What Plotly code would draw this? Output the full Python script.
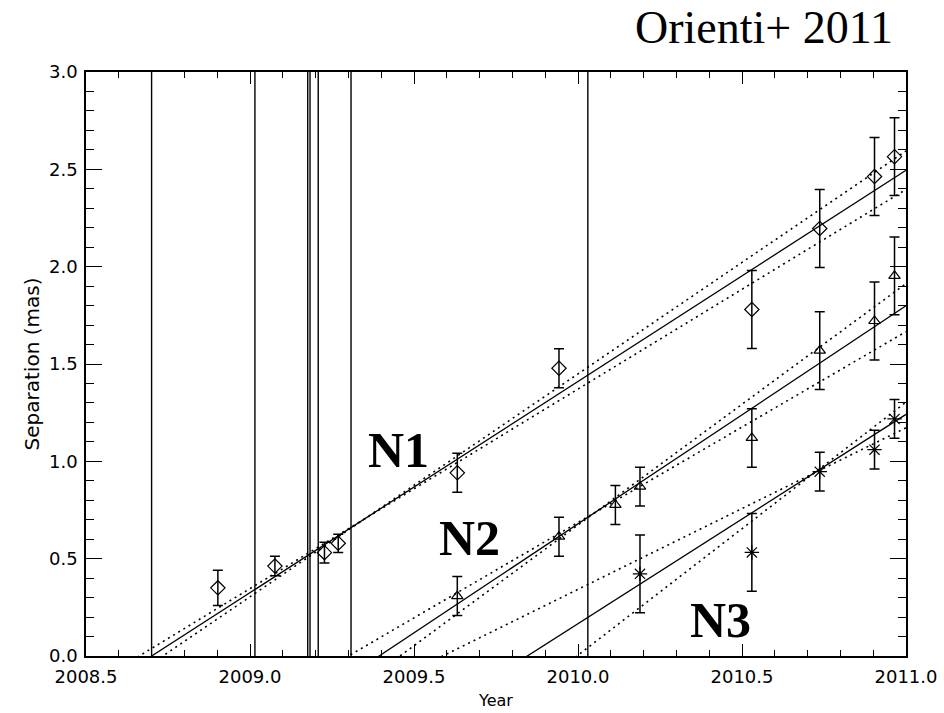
import plotly.graph_objects as go

# ---------------- data ----------------
n1_year = [2008.902, 2009.076, 2009.227, 2009.269, 2009.632, 2009.942, 2010.530, 2010.737, 2010.904, 2010.965]
n1_sep = [0.35, 0.462, 0.531, 0.579, 0.941, 1.478, 1.78, 2.196, 2.463, 2.565]
n1_err = [0.09, 0.05, 0.053, 0.047, 0.10, 0.10, 0.20, 0.20, 0.20, 0.20]

n2_year = [2009.632, 2009.942, 2010.114, 2010.189, 2010.530, 2010.737, 2010.904, 2010.965]
n2_sep = [0.308, 0.613, 0.776, 0.870, 1.120, 1.569, 1.721, 1.953]
n2_err = [0.10, 0.10, 0.10, 0.10, 0.15, 0.20, 0.20, 0.20]

n3_year = [2010.189, 2010.530, 2010.737, 2010.904, 2010.965]
n3_sep = [0.422, 0.532, 0.947, 1.060, 1.218]
n3_err = [0.20, 0.20, 0.10, 0.10, 0.10]

# linear fits: pivot point, best slope, and the two bounding slopes (mas/yr)
fit_names = ["N1", "N2", "N3"]
fit_pivot_year = [2009.35, 2010.05, 2010.72]
fit_pivot_sep = [0.705, 0.735, 0.94]
fit_slope = [1.085, 1.12, 1.075]
fit_slope_hi = [1.145, 1.24, 1.30]
fit_slope_lo = [1.025, 0.98, 0.83]

# vertical epoch lines
vline_years = [2008.70, 2009.015, 2009.176, 2009.183, 2009.208, 2009.308, 2010.03]

# component labels
label_text = ["N1", "N2", "N3"]
label_year = [2009.454, 2009.668, 2010.433]
label_sep = [1.058, 0.606, 0.185]

x_range = [2008.5, 2011.0]
y_range = [0.0, 3.0]

# ---------------- figure ----------------
fig = go.Figure()

def line_vals(py, pv, s, xs):
    return [pv + s * (x - py) for x in xs]

for i in range(len(fit_names)):
    xs = x_range
    fig.add_trace(go.Scatter(x=xs, y=line_vals(fit_pivot_year[i], fit_pivot_sep[i], fit_slope[i], xs),
                             mode="lines", line=dict(color="black", width=1.3),
                             showlegend=False, hoverinfo="skip"))
    for s in (fit_slope_hi[i], fit_slope_lo[i]):
        fig.add_trace(go.Scatter(x=xs, y=line_vals(fit_pivot_year[i], fit_pivot_sep[i], s, xs),
                                 mode="lines", line=dict(color="black", width=1.6, dash="2px,4px"),
                                 showlegend=False, hoverinfo="skip"))

err_style = dict(type="data", width=5, thickness=1.5, color="black")

fig.add_trace(go.Scatter(x=n1_year, y=n1_sep, mode="markers",
                         marker=dict(symbol="diamond-open", size=11, color="black", line=dict(width=1.2)),
                         error_y=dict(array=n1_err, **err_style), showlegend=False))
fig.add_trace(go.Scatter(x=n2_year, y=n2_sep, mode="markers",
                         marker=dict(symbol="triangle-up-open", size=10, color="black", line=dict(width=1.2)),
                         error_y=dict(array=n2_err, **err_style), showlegend=False))
fig.add_trace(go.Scatter(x=n3_year, y=n3_sep, mode="markers",
                         marker=dict(symbol="asterisk-open", size=12, color="black", line=dict(width=1.2)),
                         error_y=dict(array=n3_err, **err_style), showlegend=False))

for vx in vline_years:
    fig.add_shape(type="line", xref="x", yref="paper", x0=vx, x1=vx, y0=0, y1=1,
                  line=dict(color="black", width=1.4))

for t, lx, ly in zip(label_text, label_year, label_sep):
    fig.add_annotation(x=lx, y=ly, xref="x", yref="y", text="<b>" + t + "</b>", showarrow=False,
                       font=dict(family="Liberation Serif", size=50, color="black"))

tickfont = dict(family="DejaVu Sans", size=18, color="black")

fig.update_layout(
    width=944, height=713,
    margin=dict(l=86, r=38, t=72, b=57, autoexpand=False),
    paper_bgcolor="white", plot_bgcolor="white",
    title=dict(text="Orienti+ 2011", x=0.946, xanchor="right", y=0.962, yanchor="middle",
               font=dict(family="Liberation Serif", size=46, color="black")),
    xaxis=dict(range=x_range, dtick=0.5, tick0=2008.5, tickformat=".1f", automargin=False,
               ticks="inside", ticklen=12, tickwidth=1.2, tickcolor="black",
               minor=dict(dtick=0.1, ticks="inside", ticklen=6, tickwidth=1.2, tickcolor="black"),
               showline=True, linecolor="black", linewidth=1.5, mirror="allticks",
               showgrid=False, zeroline=False, tickfont=tickfont, ticklabelstandoff=4,
               title=dict(text="Year", font=dict(family="DejaVu Sans", size=16, color="black"), standoff=8)),
    yaxis=dict(range=y_range, dtick=0.5, tick0=0, tickformat=".1f", automargin=False,
               ticks="inside", ticklen=16, tickwidth=1.2, tickcolor="black",
               minor=dict(dtick=0.1, ticks="inside", ticklen=8, tickwidth=1.2, tickcolor="black"),
               showline=True, linecolor="black", linewidth=1.5, mirror="allticks",
               showgrid=False, zeroline=False, tickfont=tickfont, ticklabelstandoff=3,
               title=dict(text="Separation (mas)", font=dict(family="DejaVu Sans", size=20, color="black"), standoff=4)),
)

fig.write_html("out.html")
